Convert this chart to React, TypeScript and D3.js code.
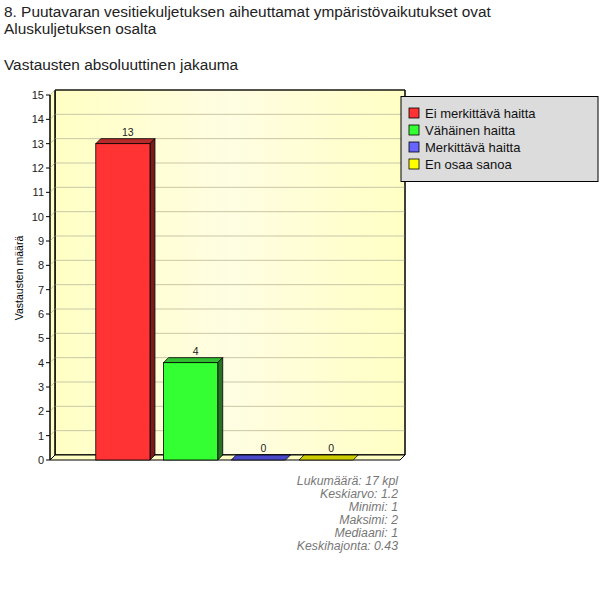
import React from "react";
import * as d3 from "d3";

const titleLines = [
  "8. Puutavaran vesitiekuljetuksen aiheuttamat ympäristövaikutukset ovat",
  "Aluskuljetuksen osalta",
];
const subtitle = "Vastausten absoluuttinen jakauma";
const categories = ["Ei merkittävä haitta", "Vähäinen haitta", "Merkittävä haitta", "En osaa sanoa"];
const counts = [13, 4, 0, 0];
const yTicks = d3.range(0, 16);
const yLabel = "Vastausten määrä";
const statLines = [
  "Lukumäärä: 17 kpl",
  "Keskiarvo: 1.2",
  "Minimi: 1",
  "Maksimi: 2",
  "Mediaani: 1",
  "Keskihajonta: 0.43",
];

// front, top, side, legend swatch
const palette = [
  { front: "#ff3333", top: "#b52a2a", side: "#7a1c1c", key: "#ff3333" },
  { front: "#33ff33", top: "#2fbf2f", side: "#267326", key: "#33ff33" },
  { front: "#5252d9", top: "#4848c8", side: "#2a2a80", key: "#6666ff" },
  { front: "#d6d600", top: "#cccc00", side: "#808000", key: "#ffff00" },
];

const font = "'Liberation Sans', Arial, sans-serif";

export default function App() {
  const left = 50, right = 400, bottom = 460, top = 95;
  const dx = 5, dy = -5;

  const y = d3.scaleLinear().domain([0, 15]).range([bottom, top]);
  const x = d3.scaleBand<string>().domain(categories).range([89, 360]).paddingInner(0.2).paddingOuter(0.1);
  const bw = x.bandwidth();

  const wall = `M${left + dx},${top + dy}L${right + dx},${top + dy}L${right + dx},${bottom + dy}L${left + dx},${bottom + dy}Z`;
  const leftWall = `M${left},${top}L${left + dx},${top + dy}L${left + dx},${bottom + dy}L${left},${bottom}Z`;
  const floor = `M${left},${bottom}L${right},${bottom}L${right + dx},${bottom + dy}L${left + dx},${bottom + dy}Z`;

  return (
    <div style={{ position: "absolute", left: 0, top: 0 }}>
      <svg width={600} height={596} style={{ display: "block", background: "#fff" }}>
        <defs>
          <linearGradient id="wallGrad" x1="0" x2="1" y1="0" y2="0">
            <stop offset="0%" stopColor="#ffffc4" />
            <stop offset="50%" stopColor="#fffde2" />
            <stop offset="100%" stopColor="#ffffc4" />
          </linearGradient>
        </defs>

        {titleLines.map((t, i) => (
          <text key={t} x={4} y={17 + i * 17} fontFamily={font} fontSize={15.4} fill="#222">{t}</text>
        ))}
        <text x={4} y={70} fontFamily={font} fontSize={15.4} fill="#222">{subtitle}</text>

        {/* walls */}
        <path d={wall} fill="url(#wallGrad)" stroke="#000" strokeWidth={1} />
        <path d={leftWall} fill="#ffffc4" stroke="#000" strokeWidth={1} />
        {yTicks.filter(v => v > 0).map(v => (
          <g key={v}>
            <line x1={left + dx} x2={right + dx} y1={y(v) + dy} y2={y(v) + dy} stroke="#c8c8a8" />
            <line x1={left} x2={left + dx} y1={y(v)} y2={y(v) + dy} stroke="#c8c8a8" />
          </g>
        ))}
        <path d={wall} fill="none" stroke="#000" strokeWidth={1} />
        <path d={floor} fill="#ffffc4" stroke="#000" strokeWidth={1} />

        {/* y axis */}
        <line x1={left} x2={left} y1={top} y2={bottom} stroke="#000" />
        {yTicks.map(v => (
          <g key={v}>
            <line x1={left - 4} x2={left} y1={y(v)} y2={y(v)} stroke="#000" />
            <text x={left - 6} y={y(v)} dy="0.35em" textAnchor="end" fontFamily={font} fontSize={11} fill="#222">{v}</text>
          </g>
        ))}
        <text transform={`translate(23,278) rotate(-90)`} textAnchor="middle" fontFamily={font} fontSize={10.5} fill="#000">{yLabel}</text>

        {/* bars */}
        {categories.map((c, i) => {
          const x0 = x(c) as number;
          const x1 = x0 + bw;
          const yt = y(counts[i]);
          const col = palette[i];
          return (
            <g key={c}>
              <path d={`M${x0},${yt}L${x0 + dx},${yt + dy}L${x1 + dx},${yt + dy}L${x1},${yt}Z`} fill={col.top} stroke="#000" strokeWidth={0.8} />
              {counts[i] > 0 && (
                <>
                  <path d={`M${x1},${yt}L${x1 + dx},${yt + dy}L${x1 + dx},${bottom + dy}L${x1},${bottom}Z`} fill={col.side} stroke="#000" strokeWidth={0.8} />
                  <rect x={x0} y={yt} width={bw} height={bottom - yt} fill={col.front} stroke="#000" strokeWidth={0.8} />
                </>
              )}
              <text x={x0 + bw / 2 + 5} y={yt - 8} textAnchor="middle" fontFamily={font} fontSize={10.5} fill="#222">{counts[i]}</text>
            </g>
          );
        })}

        {/* legend */}
        <rect x={401} y={96.5} width={197} height={85} fill="#dcdcdc" stroke="#000" strokeWidth={1} />
        {categories.map((c, i) => (
          <g key={c} transform={`translate(409,${113 + i * 17})`}>
            <rect x={0} y={-5} width={10} height={10} fill={palette[i].key} stroke="#000" strokeWidth={0.8} />
            <text x={16} y={0} dy="0.35em" fontFamily={font} fontSize={13} fill="#111">{c}</text>
          </g>
        ))}

        {/* stats */}
        {statLines.map((s, i) => (
          <text key={s} x={398} y={485 + i * 13} textAnchor="end" fontFamily={font} fontStyle="italic" fontSize={12.3} fill="#777">{s}</text>
        ))}
      </svg>
    </div>
  );
}
